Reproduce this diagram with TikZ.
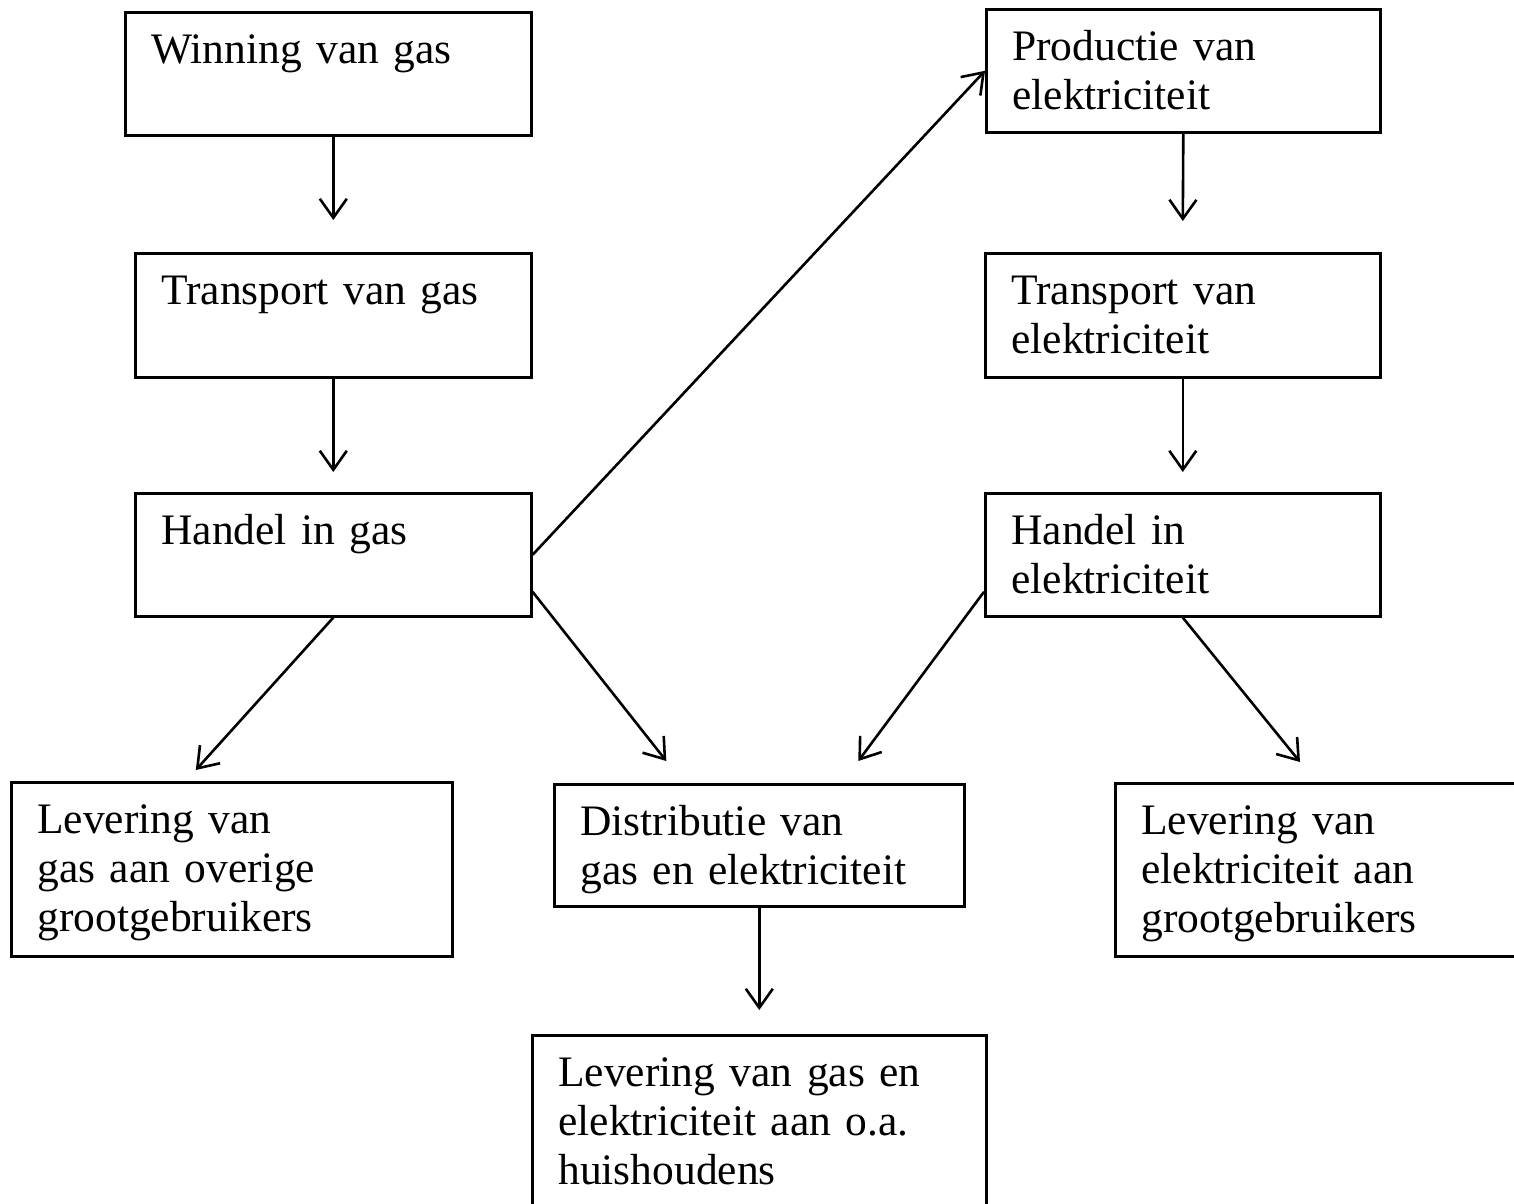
\documentclass[tikz,border=0pt]{standalone}
\usepackage{fontspec}
\setmainfont{Liberation Serif}
\usetikzlibrary{arrows.meta}

\begin{document}
\begin{tikzpicture}[x=1pt,y=-1pt,
      stage/.style={draw,line width=2.6pt,anchor=north west,inner xsep=26pt,inner ysep=0pt,
                    align=left,text height=51pt,font=\fontsize{43.5pt}{49pt}\selectfont},
      flow/.style={-{Straight Barb[length=19pt,width=27pt]},line width=2.6pt}]
    \useasboundingbox (0,0) rectangle (1514,1203);
    \clip (0,0) rectangle (1514,1203);

    % ---- gas chain (left) ---------------------------------------------
    \node[stage,text width=354pt,text depth=72pt] (win) at (124,11) {Winning van gas};
    \node[stage,text width=344pt,text depth=73pt] (tgas) at (134,252) {Transport van gas};
    \node[stage,text width=344pt,text depth=72pt] (hgas) at (134,492) {Handel in gas};
    \draw[flow] (win.south -| tgas.north) -- ([yshift=32pt]tgas.north);
    \draw[flow] (tgas.south) -- ([yshift=20pt]hgas.north);

    % ---- electricity chain (right) ------------------------------------
    \node[stage,text width=342pt,text depth=72pt] (prod) at (985,8) {Productie van\\elektriciteit};
    \node[stage,text width=343pt,text depth=73pt] (telek) at (984,252) {Transport van\\elektriciteit};
    \node[stage,text width=343pt,text depth=72pt] (helek) at (984,492) {Handel in\\elektriciteit};
    \draw[flow] (prod.south) -- ([yshift=31pt]telek.north);
    \draw[flow] (telek.south) -- ([yshift=20pt]helek.north);

    % ---- delivery (bottom) --------------------------------------------
    \node[stage,text width=389pt,text depth=123pt] (levgas) at (10,781)
          {Levering van\\gas aan overige\\grootgebruikers};
    \node[stage,text width=358pt,text depth=71pt] (dist) at (553,783)
          {Distributie van\\gas en elektriciteit};
    \node[stage,text width=378pt,text depth=122pt] (levelek) at (1114,782)
          {Levering van\\elektriciteit aan\\grootgebruikers};
    \node[stage,text width=402pt,text depth=149pt] (levhh) at (531,1034)
          {Levering van gas en\\elektriciteit aan o.a.\\huishoudens};

    \draw[flow] (hgas.east) -- (prod.west);
    \draw[flow] ([yshift=-37pt]hgas.east) -- ([xshift=-93pt,yshift=22pt]dist.north);
    \draw[flow] (hgas.south) -- ([xshift=-36pt,yshift=11pt]levgas.north);
    \draw[flow] ([yshift=-37pt]helek.west) -- ([xshift=99pt,yshift=22pt]dist.north);
    \draw[flow] (helek.south) -- ([xshift=186pt,yshift=20pt]levelek.north west);
    \draw[flow] (dist.south) -- ([yshift=24pt]levhh.north);
  \end{tikzpicture}
\end{document}
